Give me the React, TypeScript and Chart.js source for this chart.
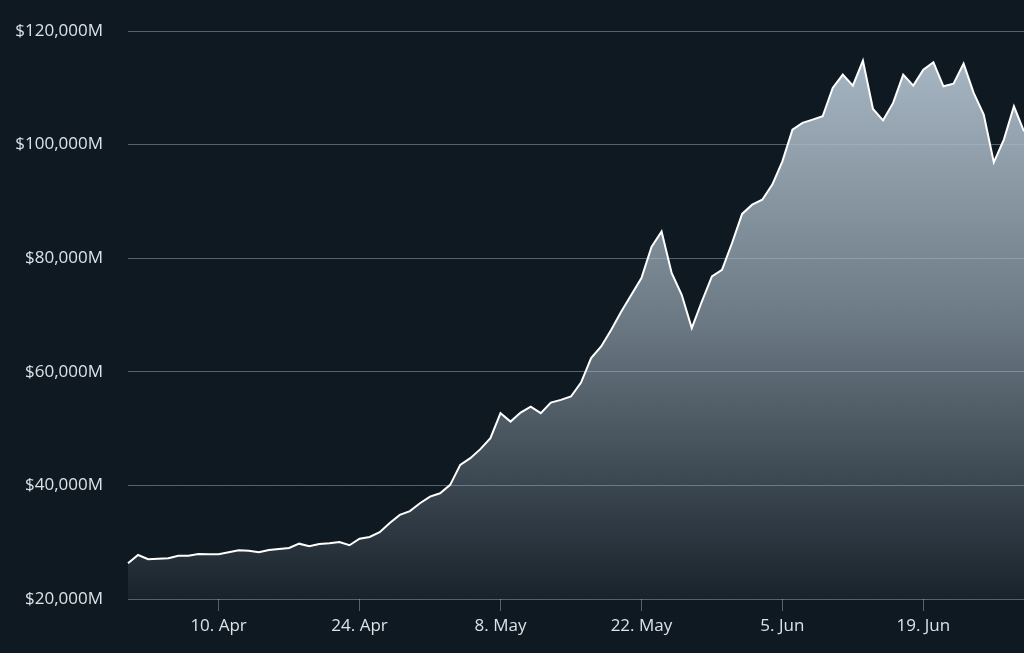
import React, { useEffect, useRef } from "react";
import { Chart, registerables } from "chart.js";

Chart.register(...registerables);

// Daily values (USD millions), 1 Apr .. 29 Jun
const marketCap: number[] = [
  26300, 27750, 27000, 27100, 27170, 27630, 27600, 27930, 27880, 27880,
  28230, 28580, 28500, 28230, 28630, 28800, 28990, 29740, 29280, 29690,
  29800, 30040, 29460, 30620, 30920, 31750, 33390, 34800, 35480, 36860,
  38030, 38620, 40090, 43610, 44790, 46380, 48320, 52720, 51240, 52830,
  53880, 52720, 54590, 55060, 55650, 58110, 62410, 64460, 67400, 70620,
  73560, 76500, 82000, 84720, 77390, 73560, 67690, 72380, 76790, 77970,
  82670, 87800, 89420, 90300, 92950, 97060, 102640, 103820, 104400, 104990,
  109980, 112330, 110390, 114790, 106280, 104280, 107340, 112330, 110390, 113200,
  114500, 110270, 110740, 114260, 109100, 105280, 96880, 100880, 106750, 102340,
];

const monthNames: string[] = ["Apr", "May", "Jun"];
const monthLengths: number[] = [30, 31, 30];

// Category labels: one per day, "D. Mon"
const dayLabels: string[] = [];
monthNames.forEach((m, mi) => {
  for (let d = 1; d <= monthLengths[mi]; d++) dayLabels.push(`${d}. ${m}`);
});
const categories: string[] = dayLabels.slice(0, marketCap.length);

// Indices of the labelled ticks (10. Apr, 24. Apr, 8. May, 22. May, 5. Jun, 19. Jun)
const tickIndices: number[] = [9, 23, 37, 51, 65, 79];

const yTicks: number[] = [20000, 40000, 60000, 80000, 100000, 120000];

const FONT = "'Open Sans', 'DejaVu Sans', sans-serif";
const LABEL_COLOR = "#dbe2e8";
const GRID_COLOR = "rgba(200,215,228,0.38)";
const BG_COLOR = "#0f1922";

const backgroundPlugin = {
  id: "bgTexture",
  beforeDraw(chart: any) {
    const c = chart.ctx as CanvasRenderingContext2D;
    const w = chart.width;
    const h = chart.height;
    c.save();
    c.fillStyle = BG_COLOR;
    c.fillRect(0, 0, w, h);
    c.fillStyle = "rgba(255,255,255,0.045)";
    for (let y = 6; y < h; y += 12) {
      for (let x = 4; x < w; x += 12) {
        c.fillRect(x, y, 1, 1);
      }
    }
    c.restore();
  },
};

export default function App() {
  const canvasRef = useRef<HTMLCanvasElement | null>(null);

  useEffect(() => {
    const canvas = canvasRef.current;
    if (!canvas) return;
    const chart = new Chart(canvas, {
      type: "line",
      data: {
        labels: categories,
        datasets: [
          {
            data: marketCap,
            borderColor: "#ffffff",
            borderWidth: 2,
            pointRadius: 0,
            tension: 0,
            fill: "start",
            backgroundColor: (ctx: any) => {
              const ch = ctx.chart;
              const area = ch.chartArea;
              if (!area) return "rgba(170,186,198,0.5)";
              const g = ch.ctx.createLinearGradient(0, area.top, 0, area.bottom);
              g.addColorStop(0, "rgba(172,188,200,1)");
              g.addColorStop(0.5, "rgba(172,188,200,0.6)");
              g.addColorStop(1, "rgba(172,188,200,0.06)");
              return g;
            },
          },
        ],
      },
      options: {
        animation: false,
        responsive: false,
        maintainAspectRatio: false,
        layout: { padding: { top: 31, right: 0, left: 0, bottom: 0 } },
        plugins: {
          legend: { display: false },
          tooltip: { enabled: false },
        },
        scales: {
          x: {
            type: "category",
            offset: false,
            afterBuildTicks: (scale: any) => {
              scale.ticks = tickIndices.map((v) => ({ value: v }));
            },
            afterFit: (scale: any) => {
              scale.height = 54;
            },
            ticks: {
              autoSkip: false,
              maxRotation: 0,
              color: LABEL_COLOR,
              padding: 5,
              font: { family: FONT, size: 17 },
            },
            grid: {
              drawOnChartArea: false,
              drawTicks: true,
              tickLength: 12,
              color: GRID_COLOR,
            },
            border: { display: false },
          },
          y: {
            min: yTicks[0],
            max: yTicks[yTicks.length - 1],
            z: 1,
            afterBuildTicks: (scale: any) => {
              scale.ticks = yTicks.map((v) => ({ value: v }));
            },
            afterFit: (scale: any) => {
              scale.width = 128;
            },
            ticks: {
              color: LABEL_COLOR,
              padding: 3,
              font: { family: FONT, size: 17 },
              callback: (v: any) => "$" + Number(v).toLocaleString("en-US") + "M",
            },
            grid: {
              drawTicks: true,
              tickLength: 22,
              tickColor: "rgba(0,0,0,0)",
              color: GRID_COLOR,
              lineWidth: 1,
            },
            border: { display: false },
          },
        },
      },
      plugins: [backgroundPlugin],
    });
    return () => chart.destroy();
  }, []);

  return (
    <div style={{ position: "absolute", left: 0, top: 0, width: 1024, height: 653 }}>
      <canvas ref={canvasRef} width={1024} height={653} style={{ display: "block" }} />
    </div>
  );
}
